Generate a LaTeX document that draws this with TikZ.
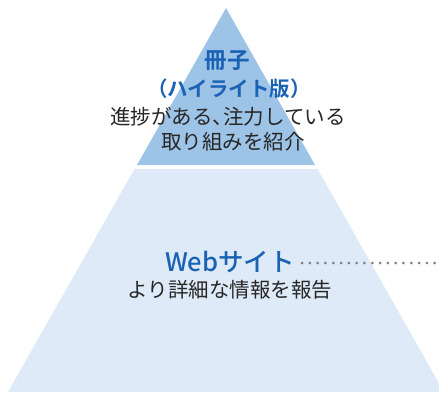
\documentclass[tikz,border=0pt]{standalone}
\usepackage{fontspec}
\setmainfont{Noto Sans CJK JP}
\newfontfamily\jpbold{Noto Sans CJK JP Bold}
\newfontfamily\jpmed{Noto Sans CJK JP Medium}
\definecolor{topblue}{HTML}{9DC3E6}
\definecolor{lowblue}{HTML}{DEEAF7}
\definecolor{txtblue}{HTML}{1A62B3}
\definecolor{txtdark}{HTML}{262626}
\definecolor{dotgray}{HTML}{7F7F7F}
\tikzset{
  title/.style={text=txtblue, inner sep=0pt, anchor=center},
  body/.style={text=txtdark, inner sep=0pt, anchor=center, font=\fontsize{20.5}{24}\selectfont},
}
\begin{document}
\begin{tikzpicture}[x=1pt,y=-1pt]
\useasboundingbox (0,0) rectangle (439,392);
\clip (0,0) rectangle (439,392);
\fill[lowblue] (134.5,169) -- (317.5,169) -- (444,392) -- (8,392) -- cycle;
\fill[topblue] (226,8) -- (315,165) -- (137,165) -- cycle;
\node[title, font=\jpbold\fontsize{22.5}{26}\selectfont] (t1) at (227,61) {冊子};
\node[title, font=\jpbold\fontsize{20.5}{24}\selectfont] (t2) at (229,89) {（ハイライト版）};
\node[body] (b1) at (228,117) {進捗がある、\kern-0.5em注力している};
\node[body] (b2) at (233,142) {取り組みを紹介};
\node[title, font=\jpmed\fontsize{25.5}{30}\selectfont] (w) at (230,262) {Webサイト};
\node[body] (b3) at (230,290) {より詳細な情報を報告};
\coordinate (wend) at (439,263);
\draw[dotgray, line width=3pt, line cap=round, dash pattern=on 0pt off 7.8pt] ([xshift=7pt]w.east |- wend) -- (wend);
\end{tikzpicture}
\end{document}
